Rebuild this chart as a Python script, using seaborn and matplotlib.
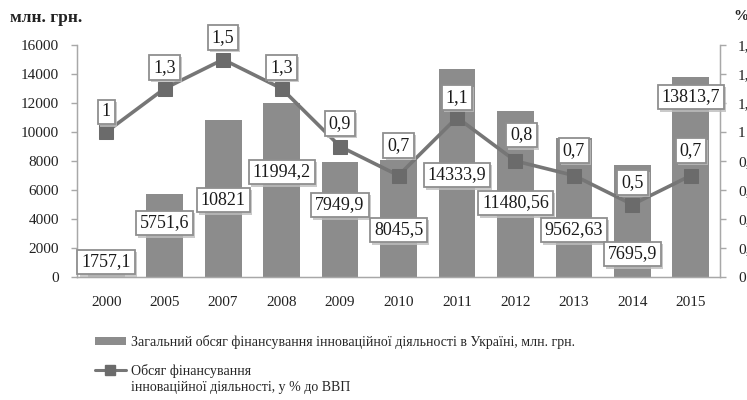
import numpy as np
import pandas as pd
import seaborn as sns
import matplotlib.pyplot as plt
import matplotlib.patheffects as pe
from matplotlib.patches import Patch
from matplotlib.lines import Line2D

# chart data
years = ['2000', '2005', '2007', '2008', '2009', '2010', '2011', '2012', '2013', '2014', '2015']
funding = [1757.1, 5751.6, 10821, 11994.2, 7949.9, 8045.5, 14333.9, 11480.56, 9562.63, 7695.9, 13813.7]
funding_text = ['1757,1', '5751,6', '10821', '11994,2', '7949,9', '8045,5', '14333,9',
                '11480,56', '9562,63', '7695,9', '13813,7']
gdp_share = [1.0, 1.3, 1.5, 1.3, 0.9, 0.7, 1.1, 0.8, 0.7, 0.5, 0.7]
gdp_text = ['1', '1,3', '1,5', '1,3', '0,9', '0,7', '1,1', '0,8', '0,7', '0,5', '0,7']
left_ticks = [0, 2000, 4000, 6000, 8000, 10000, 12000, 14000, 16000]
right_ticks = [0, 0.2, 0.4, 0.6, 0.8, 1.0, 1.2, 1.4, 1.6]
right_tick_text = ['0', '0,2', '0,4', '0,6', '0,8', '1', '1,2', '1,4', '1,6']

# where the value boxes sit (placement only, moved by hand like in the source)
bar_label_y = [1035, 3724, 5310, 7241, 4966, 3241, 7034, 5103, 3241, 1586, 12414]
line_label_dy = [20, 21, 22, 21, 23, 30, 20, 26, 25, 22, 25]
line_label_dx = [0, 0, 0, 0, 0, 0, 0, 6, 0, 0, 0]

df = pd.DataFrame({'year': years, 'funding': funding})

sns.set_style('white')
plt.rcParams['font.family'] = ['Liberation Serif', 'DejaVu Serif']

bar_col = '#8c8c8c'
line_col = '#767676'
axis_col = '#a8a8a8'

fig = plt.figure(figsize=(7.47, 4), dpi=100)
ax = fig.add_axes([0.103, 0.3075, 0.861, 0.58])

sns.barplot(ax=ax, data=df, x='year', y='funding', color=bar_col, width=0.63,
            saturation=1, edgecolor='none')
ax.set_ylim(0, 16000)
ax.set_xlim(-0.5, len(years) - 0.5)
ax.set_yticks(left_ticks)
ax.set_yticklabels([str(t) for t in left_ticks], fontsize=11, color='#222222')
ax.set_xlabel('')
ax.set_ylabel('')
ax.set_xticks(range(len(years)))
ax.set_xticklabels(years, fontsize=11, color='#222222')
ax.set_xticks(np.arange(-0.5, len(years)), minor=True)
ax.tick_params(axis='x', which='major', length=0, pad=14)
ax.tick_params(axis='x', which='minor', length=5, color=axis_col, width=1, direction='out')
ax.tick_params(axis='y', length=4, color=axis_col, width=1, direction='out', pad=9, left=True)
ax.spines['top'].set_visible(False)
for s in ['left', 'bottom', 'right']:
    ax.spines[s].set_color(axis_col)
    ax.spines[s].set_linewidth(1)

ax2 = ax.twinx()
xs = np.arange(len(years))
sns.lineplot(ax=ax2, x=xs, y=gdp_share, color=line_col, linewidth=2.6, marker='s',
             markersize=10, markerfacecolor='#6b6b6b', markeredgecolor='#6b6b6b')
ax2.set_ylim(0, 1.6)
ax2.set_yticks(right_ticks)
ax2.set_yticklabels(right_tick_text, fontsize=11, color='#222222')
ax2.tick_params(axis='y', length=4, color=axis_col, width=1, direction='out', pad=9, right=True)
ax2.spines['top'].set_visible(False)
for s in ['left', 'bottom', 'right']:
    ax2.spines[s].set_color(axis_col)

box = dict(boxstyle='square,pad=0.22', fc='white', ec='#8f8f8f', lw=1.3)
shadow = [pe.withSimplePatchShadow(offset=(1.5, -1.5), shadow_rgbFace='#bdbdbd', alpha=0.8)]

# labels of the bars
for i, (txt, ly) in enumerate(zip(funding_text, bar_label_y)):
    t = ax2.annotate(txt, xy=(i, ly), xycoords=ax.transData, ha='center', va='center',
                     fontsize=13, color='#1a1a1a', bbox=box, zorder=5)
    t.get_bbox_patch().set_path_effects(shadow)

# labels of the line
for i, (txt, v) in enumerate(zip(gdp_text, gdp_share)):
    t = ax2.annotate(txt, xy=(i, v), xytext=(line_label_dx[i] * 0.72, line_label_dy[i] * 0.72),
                     textcoords='offset points', ha='center', va='center',
                     fontsize=13, color='#1a1a1a', bbox=box, zorder=6)
    t.get_bbox_patch().set_path_effects(shadow)

fig.text(10 / 747, 1 - 18 / 400, 'млн. грн.', fontsize=12.5, fontweight='bold',
         va='center', ha='left', color='#222222')
fig.text(733 / 747, 1 - 16 / 400, '%', fontsize=11, fontweight='bold',
         va='center', ha='left', color='#222222')

# legend, split in two so the handle of the second entry sits at its first line
h1 = [Patch(facecolor=bar_col, edgecolor='none')]
leg1 = fig.legend(h1, ['Загальний обсяг фінансування інноваційної діяльності в Україні, млн. грн.'],
                  loc='center left', bbox_to_anchor=(95 / 747, 1 - 342 / 400), frameon=False,
                  fontsize=10, handlelength=2.2, handleheight=0.5, handletextpad=0.4,
                  borderaxespad=0, borderpad=0)
h2 = [Line2D([], [], color=line_col, lw=2.2, marker='s', markersize=7,
             markerfacecolor='#6b6b6b', markeredgecolor='#6b6b6b'),
      Line2D([], [], color='none')]
leg2 = fig.legend(h2, ['Обсяг фінансування', 'інноваційної діяльності, у % до ВВП'],
                  loc='upper left', bbox_to_anchor=(95 / 747, 1 - 364 / 400), frameon=False,
                  fontsize=10, handlelength=2.2, handletextpad=0.4, labelspacing=0.25,
                  borderaxespad=0, borderpad=0)

fig.savefig('out.png', dpi=100)
